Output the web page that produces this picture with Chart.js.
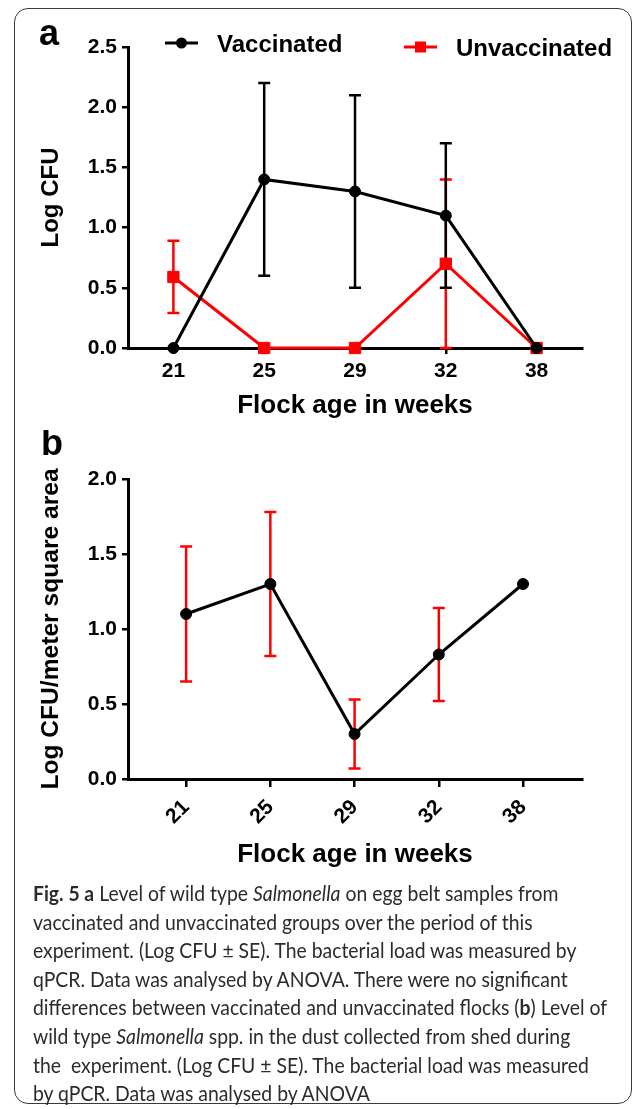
<!DOCTYPE html>
<html lang="en">
<head>
<meta charset="UTF-8">
<title>Fig. 5 Salmonella</title>
<script src="https://cdn.jsdelivr.net/npm/chart.js"></script>
<style>
  body { margin: 0; background: #fff; }
  #fig { position: relative; width: 635px; height: 1109px; overflow: hidden; }
  #frame { position: absolute; left: 14px; top: 8px; width: 618px; height: 1096px; box-sizing: border-box;
           border: 1.5px solid #3a3a3a; border-radius: 14px; }
  canvas { position: absolute; left: 0; }
  #chartA { top: 0; }
  #chartB { top: 430px; }
  #caption { position: absolute; left: 33px; top: 879px; font-family: Lato, "Open Sans", sans-serif;
             color: #2b2b2b; line-height: 28.6px; white-space: nowrap; font-size: 21px;
             transform-origin: 0 0; }
  #caption span { display: inline-block; }
</style>
</head>
<body>
<div id="fig">
  <div id="frame"></div>
  <canvas id="chartA" width="635" height="430"></canvas>
  <canvas id="chartB" width="635" height="450"></canvas>
  <div id="caption">
    <span><b>Fig. 5 a</b> Level of wild type <i>Salmonella</i> on egg belt samples from</span><br>
    <span>vaccinated and unvaccinated groups over the period of this</span><br>
    <span>experiment. (Log CFU ± SE). The bacterial load was measured by</span><br>
    <span>qPCR. Data was analysed by ANOVA. There were no significant</span><br>
    <span>differences between vaccinated and unvaccinated flocks (<b>b</b>) Level of</span><br>
    <span>wild type <i>Salmonella</i> spp. in the dust collected from shed during</span><br>
    <span>the &nbsp;experiment. (Log CFU ± SE). The bacterial load was measured</span><br>
    <span>by qPCR. Data was analysed by ANOVA</span>
  </div>
</div>
<script>
// flock age (weeks)
const weeks = ["21", "25", "29", "32", "38"];

// panel a - egg belt samples
const vaccinated = [0, 1.4, 1.3, 1.1, 0];
const vaccinatedSE = [0, 0.8, 0.8, 0.6, 0];
const unvaccinated = [0.59, 0, 0, 0.7, 0];
const unvaccinatedSE = [0.3, 0, 0, 0.7, 0];

// panel b - dust from shed
const dust = [1.1, 1.3, 0.3, 0.83, 1.3];
const dustSE = [0.45, 0.48, 0.23, 0.31, 0];

const FONT = '"Liberation Sans", Arial, Helvetica, sans-serif';
Chart.defaults.font.family = FONT;
Chart.defaults.color = "#000";

function toPoints(values) {
  return values.map((v, i) => ({ x: i, y: v }));
}

// draws mean +/- SE whiskers under the lines
const errorBars = {
  id: "errorBars",
  beforeDatasetsDraw(chart) {
    const ctx = chart.ctx;
    const y = chart.scales.y;
    for (let d = chart.data.datasets.length - 1; d >= 0; d--) {
      const ds = chart.data.datasets[d];
      if (!ds.errors) continue;
      const meta = chart.getDatasetMeta(d);
      ctx.save();
      ctx.strokeStyle = ds.errorColor;
      ctx.lineWidth = 2.5;
      meta.data.forEach((pt, i) => {
        const e = ds.errors[i];
        if (!e) return;
        const v = ds.data[i].y;
        const top = y.getPixelForValue(v + e);
        const bottom = y.getPixelForValue(v - e);
        ctx.beginPath();
        ctx.moveTo(pt.x, top);
        ctx.lineTo(pt.x, bottom);
        ctx.moveTo(pt.x - 6, top);
        ctx.lineTo(pt.x + 6, top);
        ctx.moveTo(pt.x - 6, bottom);
        ctx.lineTo(pt.x + 6, bottom);
        ctx.stroke();
      });
      ctx.restore();
    }
  },
};

// legend with a short line through the marker, like Prism
const lineLegend = {
  id: "lineLegend",
  afterDraw(chart, args, opts) {
    if (!opts.items) return;
    const ctx = chart.ctx;
    chart.data.datasets.forEach((ds, i) => {
      const p = opts.items[i];
      ctx.save();
      ctx.strokeStyle = ds.borderColor;
      ctx.fillStyle = ds.borderColor;
      ctx.lineWidth = 3;
      ctx.beginPath();
      ctx.moveTo(p.x, p.y);
      ctx.lineTo(p.x + 33, p.y);
      ctx.stroke();
      const cx = p.x + 16.5;
      if (ds.pointStyle === "rect") {
        ctx.fillRect(cx - 5.5, p.y - 5.5, 11, 11);
      } else {
        ctx.beginPath();
        ctx.arc(cx, p.y, 5.5, 0, Math.PI * 2);
        ctx.fill();
      }
      ctx.fillStyle = "#000";
      ctx.font = "bold 24px " + FONT;
      ctx.textBaseline = "alphabetic";
      ctx.fillText(ds.label, p.x + 52, p.y + 9);
      ctx.restore();
    });
  },
};

const panelLetter = {
  id: "panelLetter",
  afterDraw(chart, args, opts) {
    const ctx = chart.ctx;
    ctx.save();
    ctx.font = "bold 36px " + FONT;
    ctx.fillStyle = "#000";
    ctx.fillText(opts.text, opts.x, opts.y);
    ctx.restore();
  },
};

function xAxis(min, max, height, tickLength, rotation, padding, titlePad) {
  return {
    type: "linear",
    min: min,
    max: max,
    afterBuildTicks: (scale) => {
      scale.ticks = weeks.map((w, i) => ({ value: i }));
    },
    afterFit: (scale) => {
      scale.height = height;
    },
    grid: { drawOnChartArea: false, drawTicks: true, tickLength: tickLength, color: "#000", lineWidth: 2.5 },
    border: { display: true, color: "#000", width: 3 },
    ticks: {
      autoSkip: false,
      minRotation: rotation,
      maxRotation: rotation,
      padding: padding,
      font: { size: 21, weight: "bold" },
      callback: (v) => weeks[v],
    },
    title: {
      display: true,
      text: "Flock age in weeks",
      font: { size: 26, weight: "bold" },
      padding: { top: 0, bottom: titlePad },
    },
  };
}

function yAxis(max, title, titleSize) {
  return {
    min: 0,
    max: max,
    afterFit: (scale) => {
      scale.width = 128;
    },
    grid: { drawOnChartArea: false, drawTicks: true, tickLength: 6, color: "#000", lineWidth: 2.5 },
    border: { display: true, color: "#000", width: 3 },
    ticks: {
      stepSize: 0.5,
      padding: 5,
      font: { size: 21, weight: "bold" },
      callback: (v) => v.toFixed(1),
    },
    title: {
      display: true,
      text: title,
      font: { size: titleSize, weight: "bold" },
      padding: { top: 51 - titleSize * 0.6, bottom: 0 },
    },
  };
}

const common = {
  responsive: false,
  animation: false,
  devicePixelRatio: 1,
  events: [],
};

// Panel a
new Chart(document.getElementById("chartA"), {
  type: "line",
  data: {
    datasets: [
      {
        label: "Vaccinated",
        data: toPoints(vaccinated),
        errors: vaccinatedSE,
        errorColor: "#000000",
        borderColor: "#000000",
        backgroundColor: "#000000",
        borderWidth: 3,
        pointStyle: "circle",
        pointRadius: 5.5,
        pointBorderWidth: 1,
        tension: 0,
        clip: false,
      },
      {
        label: "Unvaccinated",
        data: toPoints(unvaccinated),
        errors: unvaccinatedSE,
        errorColor: "#ff0000",
        borderColor: "#ff0000",
        backgroundColor: "#ff0000",
        borderWidth: 3,
        pointStyle: "rect",
        pointRadius: 8,
        pointBorderWidth: 1,
        tension: 0,
        clip: false,
      },
    ],
  },
  options: {
    ...common,
    layout: { padding: { top: 47, right: 53, left: 0, bottom: 0 } },
    scales: {
      x: xAxis(-0.5, 4.5, 82, 6, 0, 5, 8.4),
      y: yAxis(2.5, "Log CFU", 24),
    },
    plugins: {
      legend: { display: false },
      tooltip: { enabled: false },
      panelLetter: { text: "a", x: 39, y: 45 },
      lineLegend: { items: [{ x: 165, y: 43 }, { x: 404, y: 47 }] },
    },
  },
  plugins: [errorBars, lineLegend, panelLetter],
});

// Panel b
new Chart(document.getElementById("chartB"), {
  type: "line",
  data: {
    datasets: [
      {
        label: "Dust",
        data: toPoints(dust),
        errors: dustSE,
        errorColor: "#ff0000",
        borderColor: "#000000",
        backgroundColor: "#000000",
        borderWidth: 3,
        pointStyle: "circle",
        pointRadius: 5.5,
        pointBorderWidth: 1,
        tension: 0,
        clip: false,
      },
    ],
  },
  options: {
    ...common,
    layout: { padding: { top: 49, right: 53, left: 0, bottom: 0 } },
    scales: {
      x: xAxis(-0.69, 4.7, 101, 8, 45, 8, 9.4),
      y: yAxis(2.0, "Log CFU/meter square area", 24.6),
    },
    plugins: {
      legend: { display: false },
      tooltip: { enabled: false },
      panelLetter: { text: "b", x: 41, y: 25 },
    },
  },
  plugins: [errorBars, panelLetter],
});

// squeeze the caption so the longest line spans the same width as in the figure
const caption = document.getElementById("caption");
const widest = caption.querySelectorAll("span")[4];
const w = widest.getBoundingClientRect().width;
caption.style.transform = "scaleX(" + (574 / w).toFixed(4) + ")";
</script>
</body>
</html>
